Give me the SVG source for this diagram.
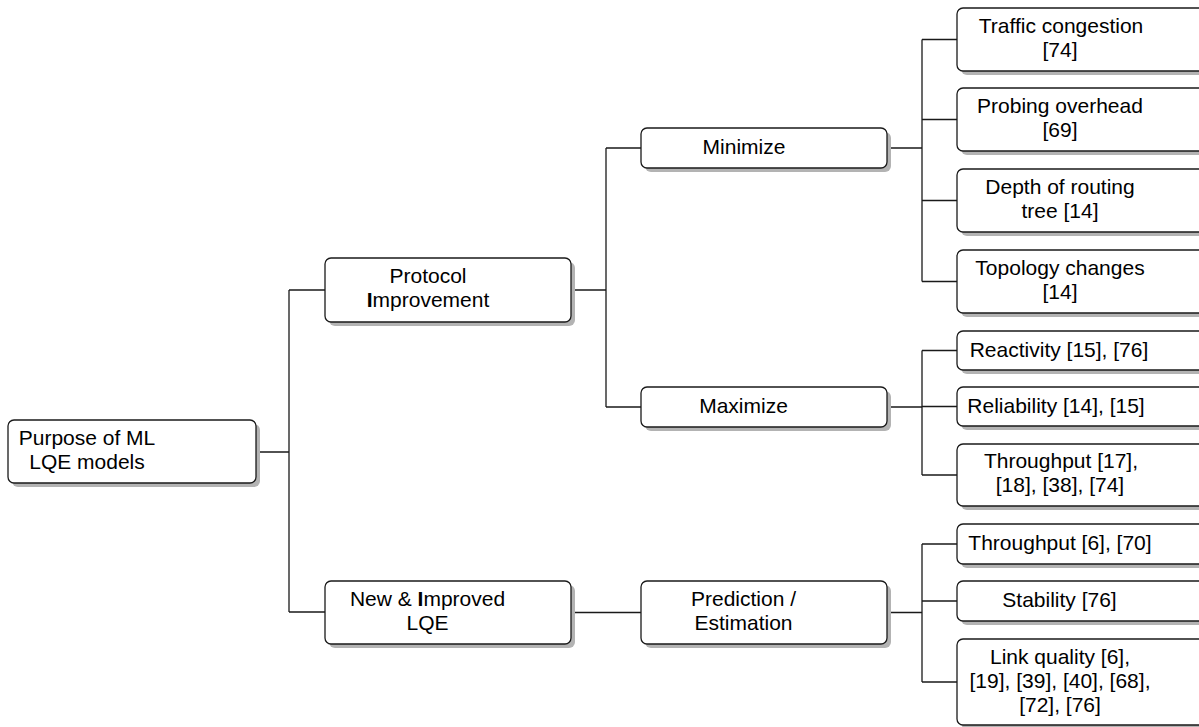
<svg xmlns="http://www.w3.org/2000/svg" width="1199" height="727" viewBox="0 0 1199 727">
<defs>
<style>
.box{fill:#ffffff;stroke:#1a1a1a;stroke-width:1.3}
.sh{fill:#b3b3b3;stroke:none}
.t{font-family:"Liberation Sans",Arial,Helvetica,sans-serif;font-size:21px;fill:#000;text-anchor:middle}
.c{fill:none;stroke:#1a1a1a;stroke-width:1.3}
</style>
</defs>
<rect width="1199" height="727" fill="#ffffff"/>
<g id="connectors">
<path class="c" d="M256,452 H289 M289,290 V612 M289,290 H325 M289,612 H325"/>
<path class="c" d="M571,290 H606 M606,148 V407 M606,148 H641 M606,407 H641"/>
<path class="c" d="M571,612.5 H641"/>
<path class="c" d="M887,148 H922 M922,39.5 V281.5 M922,39.5 H957 M922,119.5 H957 M922,200.5 H957 M922,281.5 H957"/>
<path class="c" d="M887,407 H922 M922,350.5 V475 M922,350.5 H957 M922,406.5 H957 M922,475 H957"/>
<path class="c" d="M887,612.5 H922 M922,544 V682 M922,544 H957 M922,601 H957 M922,682 H957"/>
</g>
<g id="root">
<rect class="sh" x="12" y="424" width="248" height="63" rx="6"/>
<rect class="box" x="8" y="420" width="248" height="63" rx="6"/>
<text class="t" x="87" y="445">Purpose of ML</text>
<text class="t" x="87" y="469">LQE models</text>
</g>
<g id="protocol">
<rect class="sh" x="329" y="262" width="246" height="64" rx="6"/>
<rect class="box" x="325" y="258" width="246" height="64" rx="6"/>
<text class="t" x="428" y="283">Protocol</text>
<text class="t" x="428" y="307"><tspan font-weight="bold">I</tspan>mprovement</text>
</g>
<g id="newlqe">
<rect class="sh" x="329" y="585" width="246" height="63" rx="6"/>
<rect class="box" x="325" y="581" width="246" height="63" rx="6"/>
<text class="t" x="427.5" y="606">New &amp; <tspan font-weight="bold">I</tspan>mproved</text>
<text class="t" x="427.5" y="630">LQE</text>
</g>
<g id="minimize">
<rect class="sh" x="645" y="132" width="246" height="40" rx="6"/>
<rect class="box" x="641" y="128" width="246" height="40" rx="6"/>
<text class="t" x="744" y="154">Minimize</text>
</g>
<g id="maximize">
<rect class="sh" x="645" y="391" width="246" height="40" rx="6"/>
<rect class="box" x="641" y="387" width="246" height="40" rx="6"/>
<text class="t" x="743.5" y="413">Maximize</text>
</g>
<g id="prediction">
<rect class="sh" x="645" y="585" width="246" height="63" rx="6"/>
<rect class="box" x="641" y="581" width="246" height="63" rx="6"/>
<text class="t" x="743.5" y="606">Prediction /</text>
<text class="t" x="743.5" y="630">Estimation</text>
</g>
<g id="traffic">
<rect class="sh" x="961" y="12" width="260" height="63" rx="6"/>
<rect class="box" x="957" y="8" width="260" height="63" rx="6"/>
<text class="t" x="1061" y="33">Traffic congestion</text>
<text class="t" x="1060" y="57">[74]</text>
</g>
<g id="probing">
<rect class="sh" x="961" y="92" width="260" height="63" rx="6"/>
<rect class="box" x="957" y="88" width="260" height="63" rx="6"/>
<text class="t" x="1060" y="113">Probing overhead</text>
<text class="t" x="1060" y="137">[69]</text>
</g>
<g id="depth">
<rect class="sh" x="961" y="173" width="260" height="63" rx="6"/>
<rect class="box" x="957" y="169" width="260" height="63" rx="6"/>
<text class="t" x="1060" y="194">Depth of routing</text>
<text class="t" x="1060" y="218">tree [14]</text>
</g>
<g id="topology">
<rect class="sh" x="961" y="254" width="260" height="63" rx="6"/>
<rect class="box" x="957" y="250" width="260" height="63" rx="6"/>
<text class="t" x="1060" y="275">Topology changes</text>
<text class="t" x="1060" y="299">[14]</text>
</g>
<g id="reactivity">
<rect class="sh" x="961" y="335" width="260" height="39" rx="6"/>
<rect class="box" x="957" y="331" width="260" height="39" rx="6"/>
<text class="t" x="1059" y="357">Reactivity [15], [76]</text>
</g>
<g id="reliability">
<rect class="sh" x="961" y="391" width="260" height="39" rx="6"/>
<rect class="box" x="957" y="387" width="260" height="39" rx="6"/>
<text class="t" x="1056" y="413">Reliability [14], [15]</text>
</g>
<g id="throughput1">
<rect class="sh" x="961" y="448" width="260" height="62" rx="6"/>
<rect class="box" x="957" y="444" width="260" height="62" rx="6"/>
<text class="t" x="1061" y="468">Throughput [17],</text>
<text class="t" x="1060" y="492">[18], [38], [74]</text>
</g>
<g id="throughput2">
<rect class="sh" x="961" y="528" width="260" height="40" rx="6"/>
<rect class="box" x="957" y="524" width="260" height="40" rx="6"/>
<text class="t" x="1060" y="550">Throughput [6], [70]</text>
</g>
<g id="stability">
<rect class="sh" x="961" y="585" width="260" height="40" rx="6"/>
<rect class="box" x="957" y="581" width="260" height="40" rx="6"/>
<text class="t" x="1059.5" y="607">Stability [76]</text>
</g>
<g id="linkquality">
<rect class="sh" x="961" y="643" width="260" height="86" rx="6"/>
<rect class="box" x="957" y="639" width="260" height="86" rx="6"/>
<text class="t" x="1060" y="664">Link quality [6],</text>
<text class="t" x="1060" y="688">[19], [39], [40], [68],</text>
<text class="t" x="1060" y="712">[72], [76]</text>
</g>
</svg>
